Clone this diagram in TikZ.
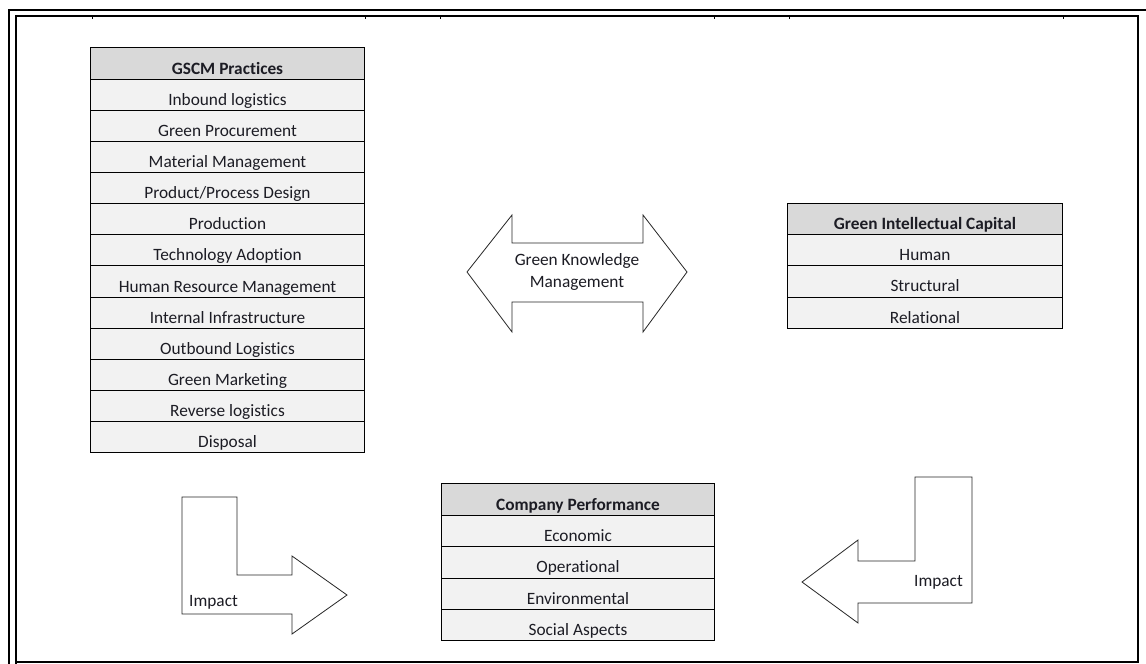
\documentclass[tikz,border=0pt]{standalone}
\usepackage{fontspec}
\setmainfont[Ligatures={NoCommon}]{Carlito}
\definecolor{hdrgray}{HTML}{D9D9D9}
\definecolor{rowgray}{HTML}{F2F2F2}
\definecolor{inkc}{HTML}{1C1C24}
\tikzset{
  cellbase/.style={draw=black, line width=1pt, inner sep=0pt, text=inkc,
    text height=21pt, text depth=0pt,
    font=\fontsize{17.3}{21}\selectfont, anchor=north west},
  hdrcell/.style={cellbase, fill=hdrgray, font=\fontsize{17.3}{21}\selectfont\bfseries},
  rowcell/.style={cellbase, fill=rowgray},
  blockarrow/.style={draw=black!85, line width=0.8pt, fill=white, line join=miter},
  arrowtext/.style={text=inkc, font=\fontsize{17.3}{22}\selectfont, align=center, inner sep=0pt},
  framerule/.style={draw=black, line width=1.3pt},
  tickmark/.style={draw=black, line width=1pt}
}
\begin{document}
\begin{tikzpicture}[x=1pt, y=-1pt]
\useasboundingbox (0,0) rectangle (1146,664);
\fill[white] (0,0) rectangle (1146,664);

% page frame: outer rule and inner box with column ticks
\draw[framerule, line width=2pt] (1146,10) -- (9,10) -- (9,664);
\draw[framerule] (16,664) -- (16,16) -- (1138,16) -- (1138,662) -- (16,662);
\foreach \tx in {92,365,440,714,789,1063}
  \draw[tickmark] (\tx,16) -- (\tx,19);

% GSCM practices table
\node[hdrcell, minimum width=274pt, minimum height=32pt] (gh) at (90,47) {GSCM Practices};
\foreach \i/\t in {1/Inbound logistics, 2/Green Procurement, 3/Material Management,
  4/Product\slash Process Design, 5/Production, 6/Technology Adoption,
  7/Human Resource Management, 8/Internal Infrastructure, 9/Outbound Logistics,
  10/Green Marketing, 11/Reverse logistics, 12/Disposal}
  \node[rowcell, minimum width=274pt, minimum height=31.08pt] (g\i)
    at (90,{79+(\i-1)*31.08}) {\t};

% Green intellectual capital table
\node[hdrcell, minimum width=275pt, minimum height=31pt] (ch) at (787,203) {Green Intellectual Capital};
\foreach \i/\t in {1/Human, 2/Structural, 3/Relational}
  \node[rowcell, minimum width=275pt, minimum height=31.33pt] (c\i)
    at (787,{234+(\i-1)*31.33}) {\t};

% Company performance table
\node[hdrcell, minimum width=273pt, minimum height=32pt] (ph) at (441,483) {Company Performance};
\foreach \i/\t in {1/Economic, 2/Operational, 3/Environmental, 4/Social Aspects}
  \node[rowcell, minimum width=273pt, minimum height=31.25pt] (p\i)
    at (441,{515+(\i-1)*31.25}) {\t};

% double-headed arrow: green knowledge management
\draw[blockarrow] (467,272) -- (512,215) -- (512,243) -- (643,243) -- (643,215)
  -- (687,272) -- (643,332) -- (643,302) -- (512,302) -- (512,332) -- cycle;
\node[arrowtext] (gkm) at (577,272) {Green Knowledge\\Management};

% bent arrow from practices to performance
\draw[blockarrow] (182,497) -- (237,497) -- (237,575) -- (292,575) -- (292,556)
  -- (347,595) -- (292,634) -- (292,614) -- (182,614) -- cycle;
\node[arrowtext, anchor=west] (impl) at (189,602) {Impact};

% bent arrow from intellectual capital to performance
\draw[blockarrow] (972,477) -- (915,477) -- (915,561) -- (858,561) -- (858,540)
  -- (802,582) -- (858,623) -- (858,603) -- (972,603) -- cycle;
\node[arrowtext, anchor=east] (impr) at (963,582) {Impact};
\end{tikzpicture}
\end{document}
